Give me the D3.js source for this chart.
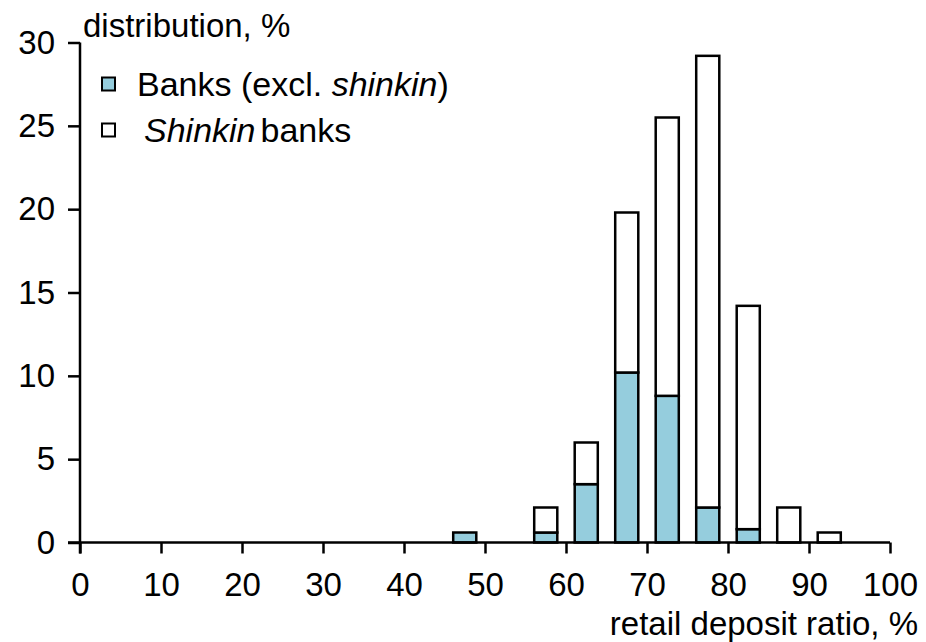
<!DOCTYPE html>
<html>
<head>
<meta charset="utf-8">
<script src="https://cdn.jsdelivr.net/npm/d3@7"></script>
<style>
  html, body { margin: 0; padding: 0; background: #fff; }
  svg { display: block; font-family: "Liberation Sans", Arial, sans-serif; }
</style>
</head>
<body>
<svg id="chart" width="926" height="642"></svg>
<script>
// Histogram bins: lower bound of each 5-point bin of the retail deposit ratio (%)
const binStarts = [45, 55, 60, 65, 70, 75, 80, 85, 90];
// Share of institutions in each bin, %
const banksValues   = [0.6, 0.6, 3.5, 10.2, 8.8, 2.1, 0.8, 0, 0];
const shinkinValues = [0, 1.5, 2.5, 9.6, 16.7, 27.1, 13.4, 2.1, 0.6];
const seriesNames = ["Banks", "Shinkin"];
const xTicks = [0, 10, 20, 30, 40, 50, 60, 70, 80, 90, 100];
const yTicks = [0, 5, 10, 15, 20, 25, 30];

const binWidth = 5;
const barFill = { Banks: "#95cddd", Shinkin: "#ffffff" };

const svg = d3.select("#chart");
const fontSize = 33;
const legendFontSize = 34;
const fontFamily = "'Liberation Sans', Arial, sans-serif";

const x = d3.scaleLinear().domain([0, 100]).range([80, 890]);
const y = d3.scaleLinear().domain([0, 30]).range([542.5, 42.5]);

const rows = binStarts.map((b, i) => ({ bin: b, Banks: banksValues[i], Shinkin: shinkinValues[i] }));
const stacked = d3.stack().keys(seriesNames)(rows);

// Bars: ~57% of the bin width, centred in each bin
const barW = (x(binWidth) - x(0)) * 0.57;
const layers = svg.append("g").selectAll("g")
  .data(stacked)
  .join("g")
  .attr("fill", d => barFill[d.key]);

layers.selectAll("rect")
  .data(d => d.filter(s => s[1] - s[0] > 0))
  .join("rect")
  .attr("x", d => x(d.data.bin + binWidth / 2) - barW / 2)
  .attr("width", barW)
  .attr("y", d => y(d[1]))
  .attr("height", d => y(d[0]) - y(d[1]))
  .attr("stroke", "#000")
  .attr("stroke-width", 2.5);

// X axis
const xAxis = svg.append("g")
  .attr("transform", `translate(0,${y(0)})`)
  .call(d3.axisBottom(x).tickValues(xTicks).tickSize(11).tickPadding(14).tickSizeOuter(0));
xAxis.select(".domain").remove();
xAxis.append("line")
  .attr("x1", 68).attr("x2", x(100))
  .attr("stroke", "#000").attr("stroke-width", 2.5);
xAxis.selectAll(".tick line").attr("stroke-width", 2.5);
xAxis.selectAll(".tick text")
  .attr("font-size", fontSize).attr("fill", "#000")
  .attr("font-family", fontFamily)
  .attr("dy", null).attr("y", 53);

// Y axis
const yAxis = svg.append("g")
  .attr("transform", `translate(${x(0)},0)`)
  .call(d3.axisLeft(y).tickValues(yTicks).tickSize(12).tickPadding(13).tickSizeOuter(0));
yAxis.select(".domain").remove();
yAxis.append("line")
  .attr("y1", y(30)).attr("y2", y(0) + 11)
  .attr("stroke", "#000").attr("stroke-width", 2.5);
yAxis.selectAll(".tick line").attr("stroke-width", 2.5);
yAxis.selectAll(".tick text")
  .attr("font-size", fontSize).attr("fill", "#000")
  .attr("font-family", fontFamily);

// Axis titles
svg.append("text")
  .attr("x", 83).attr("y", 37)
  .attr("font-size", fontSize)
  .text("distribution, %");

svg.append("text")
  .attr("x", 918).attr("y", 635)
  .attr("text-anchor", "end")
  .attr("font-size", fontSize)
  .text("retail deposit ratio, %");

// Legend (text pieces: [string, font-style, extra dx])
const legend = svg.append("g");
const legendItems = [
  { key: "Banks", y: 84, tx: 137, parts: [["Banks (excl. ", "normal", 0], ["shinkin", "italic", 0], [")", "normal", 0]] },
  { key: "Shinkin", y: 130, tx: 144, parts: [["Shinkin", "italic", 0], ["banks", "normal", 5]] }
];
legendItems.forEach(item => {
  legend.append("rect")
    .attr("x", 102).attr("y", item.y - 6.5)
    .attr("width", 13).attr("height", 13)
    .attr("fill", barFill[item.key])
    .attr("stroke", "#000").attr("stroke-width", 2);
  const t = legend.append("text")
    .attr("x", item.tx).attr("y", item.y + 12)
    .attr("font-size", legendFontSize);
  item.parts.forEach(([s, style, dx]) => {
    t.append("tspan").attr("font-style", style).attr("dx", dx || null).text(s);
  });
});
</script>
</body>
</html>
